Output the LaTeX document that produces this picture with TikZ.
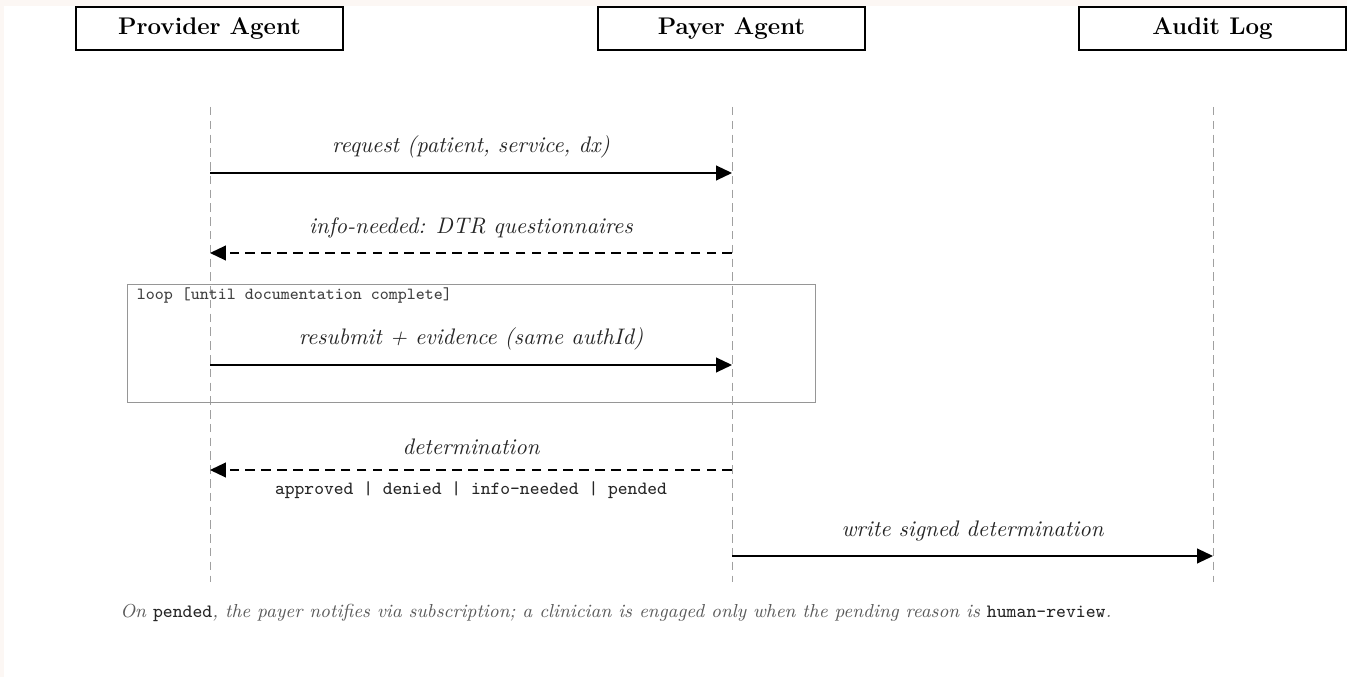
\documentclass[tikz,border=0pt]{standalone}
\usepackage{amsmath}
\usepackage{tikz}
\usetikzlibrary{arrows.meta, positioning}

\definecolor{pagecream}{RGB}{252,247,244}
\definecolor{lifegray}{RGB}{160,160,160}
\definecolor{framegray}{RGB}{150,150,150}
\definecolor{notegray}{RGB}{90,90,90}

\tikzset{
    actor/.style={draw, thick, fill=white, minimum width=126pt, minimum height=20.3pt, font=\fontsize{11.35}{13}\selectfont\bfseries},
    lifeline/.style={lifegray, thin, dash pattern=on 4pt off 2.5pt},
    msg/.style={->, semithick},
    reply/.style={->, semithick, dash pattern=on 4.5pt off 3pt},
    lbl/.style={font=\fontsize{10.6}{12}\selectfont\itshape, text=black!85},
    frame/.style={draw=framegray, thin}
}

\begin{document}
\begin{tikzpicture}[x=0.4717pt, y=-0.4717pt, >={Triangle[length=7.5pt,width=7pt]}]
    % page
    \fill[pagecream] (0,0) rectangle (1347,677);
    \fill[white] (4,6) rectangle (1347,677);
    \useasboundingbox (0,0) rectangle (1347,677);

    % participants
    \node[actor] (prov) at (209.5,28.5) {Provider Agent};
    \node[actor] (payer) at (731.5,28.5) {Payer Agent};
    \node[actor] (audit) at (1212.5,28.5) {Audit Log};

    % lifelines
    \coordinate (provtop) at (210,107);
    \coordinate (provbot) at (210,582);
    \coordinate (payertop) at (732,107);
    \coordinate (payerbot) at (732,582);
    \coordinate (audittop) at (1213,107);
    \coordinate (auditbot) at (1213,582);
    \draw[lifeline] (provtop) -- (provbot);
    \draw[lifeline] (payertop) -- (payerbot);
    \draw[lifeline] (audittop) -- (auditbot);

    % loop frame
    \node[frame, minimum width=324.5pt, minimum height=55.7pt, inner sep=0pt] (loop) at (471,343) {};
    \node[anchor=north west, font=\footnotesize\ttfamily, text=black!75, inner xsep=4.6pt, inner ysep=1.6pt] (looplbl) at (loop.north west) {loop [until documentation complete]};

    % messages
    \coordinate (m1a) at (210,173);
    \coordinate (m1b) at (732,173);
    \draw[msg] (m1a) -- node[lbl, above=3.6pt] (req) {request (patient, service, dx)} (m1b);

    \coordinate (m2a) at (732,253);
    \coordinate (m2b) at (210,253);
    \draw[reply] (m2a) -- node[lbl, above=3.6pt] (info) {info-needed: DTR questionnaires} (m2b);

    \coordinate (m3a) at (210,365);
    \coordinate (m3b) at (732,365);
    \draw[msg] (m3a) -- node[lbl, above=3.6pt] (resub) {resubmit + evidence (same authId)} (m3b);

    \coordinate (m4a) at (732,470);
    \coordinate (m4b) at (210,470);
    \draw[reply] (m4a) -- node[lbl, above=3.6pt] (det) {determination}
        node[below=2pt, font=\fontsize{8.8}{10}\selectfont\ttfamily, text=black!85] (detvals) {approved | denied | info-needed | pended} (m4b);

    \coordinate (m5a) at (732,556);
    \coordinate (m5b) at (1213,556);
    \draw[msg] (m5a) -- node[lbl, above=3.6pt] (write) {write signed determination} (m5b);

    % footnote
    \node[anchor=west, inner sep=0pt, font=\fontsize{8.88}{10.5}\selectfont\itshape, text=notegray] (note) at (120,613)
        {On \texttt{\upshape\color{black!85}pended}, the payer notifies via subscription; a clinician is engaged only when the pending reason is \texttt{\upshape\color{black!85}human-review}.};
\end{tikzpicture}
\end{document}
